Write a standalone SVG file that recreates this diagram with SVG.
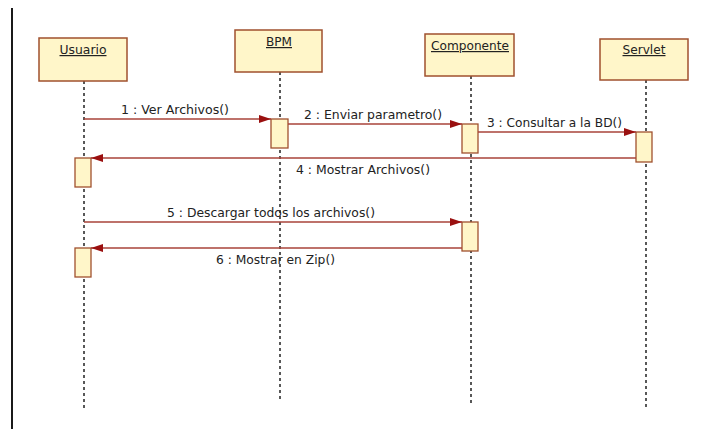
<svg xmlns="http://www.w3.org/2000/svg" width="703" height="429" viewBox="0 0 703 429">
  <style>
    .obj { fill: #fff6c9; stroke: #a0502e; stroke-width: 1.5; }
    .act { fill: #fff6c9; stroke: #a0502e; stroke-width: 1.3; }
    .life { stroke: #222; stroke-width: 1.5; stroke-dasharray: 3 3; fill: none; }
    .msg { stroke: #a8433a; stroke-width: 1.3; fill: none; marker-end: url(#head); }
    .name { font-family: "DejaVu Sans", Tahoma, sans-serif; font-size: 12px; fill: #222; text-decoration: underline; text-anchor: middle; }
    .lbl { font-family: "DejaVu Sans", Tahoma, sans-serif; font-size: 12px; fill: #222; }
  </style>
  <defs>
    <marker id="head" viewBox="0 0 12 8" refX="12" refY="4" markerWidth="12" markerHeight="8" markerUnits="userSpaceOnUse" orient="auto">
      <path d="M0,0 L12,4 L0,8 Z" fill="#9a1010"/>
    </marker>
  </defs>
  <rect width="703" height="429" fill="#fff"/>
  <line x1="12" y1="8" x2="12" y2="429" stroke="#000" stroke-width="1.8"/>

  <!-- lifelines -->
  <g id="lifelines">
    <line class="life" x1="84" y1="81" x2="84" y2="410"/>
    <line class="life" x1="280" y1="72" x2="280" y2="402"/>
    <line class="life" x1="471" y1="76" x2="471" y2="406"/>
    <line class="life" x1="646" y1="80" x2="646" y2="410"/>
  </g>

  <g id="usuario">
    <rect class="obj" x="39" y="38" width="88" height="43"/>
    <text class="name" x="83" y="54" textLength="47" lengthAdjust="spacingAndGlyphs">Usuario</text>
    <rect class="act" x="75" y="158" width="16" height="29"/>
    <rect class="act" x="75" y="248" width="16" height="29"/>
  </g>
  <g id="bpm">
    <rect class="obj" x="235" y="30" width="87" height="42"/>
    <text class="name" x="279" y="46" textLength="26" lengthAdjust="spacingAndGlyphs">BPM</text>
    <rect class="act" x="271" y="119" width="17" height="29"/>
  </g>
  <g id="componente">
    <rect class="obj" x="425" y="34" width="89" height="42"/>
    <text class="name" x="470" y="50" textLength="78" lengthAdjust="spacingAndGlyphs">Componente</text>
    <rect class="act" x="462" y="124" width="16" height="29"/>
    <rect class="act" x="462" y="222" width="16" height="29"/>
  </g>
  <g id="servlet">
    <rect class="obj" x="600" y="39" width="88" height="41"/>
    <text class="name" x="644" y="54" textLength="43" lengthAdjust="spacingAndGlyphs">Servlet</text>
    <rect class="act" x="636" y="132" width="16" height="30"/>
  </g>

  <!-- messages -->
  <g id="connectors">
    <line class="msg" x1="84" y1="119" x2="271" y2="119"/>
    <line class="msg" x1="288" y1="124" x2="462" y2="124"/>
    <line class="msg" x1="478" y1="132" x2="636" y2="132"/>
    <line class="msg" x1="636" y1="158" x2="91" y2="158"/>
    <line class="msg" x1="84" y1="222" x2="462" y2="222"/>
    <line class="msg" x1="462" y1="248" x2="91" y2="248"/>
    <text class="lbl" x="121" y="114" textLength="108" lengthAdjust="spacingAndGlyphs">1 : Ver Archivos()</text>
    <text class="lbl" x="304" y="119" textLength="138" lengthAdjust="spacingAndGlyphs">2 : Enviar parametro()</text>
    <text class="lbl" x="487" y="127" textLength="135" lengthAdjust="spacingAndGlyphs">3 : Consultar a la BD()</text>
    <text class="lbl" x="296" y="174" textLength="134" lengthAdjust="spacingAndGlyphs">4 : Mostrar Archivos()</text>
    <text class="lbl" x="167" y="217" textLength="208" lengthAdjust="spacingAndGlyphs">5 : Descargar todos los archivos()</text>
    <text class="lbl" x="216" y="264" textLength="119" lengthAdjust="spacingAndGlyphs">6 : Mostrar en Zip()</text>
  </g>
</svg>
